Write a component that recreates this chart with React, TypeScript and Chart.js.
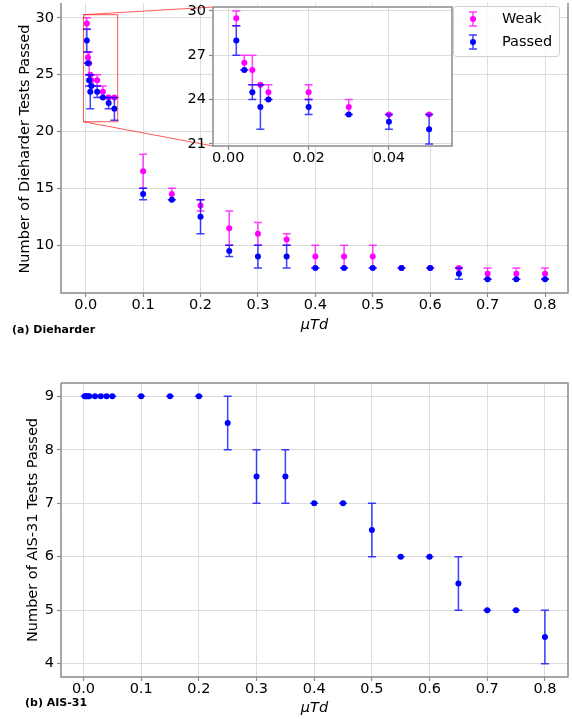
import React, { useEffect, useRef } from 'react';
import { Chart, registerables } from 'chart.js';

Chart.register(...registerables);

// ---------------- data ----------------
const MU_TD = [0.002, 0.004, 0.006, 0.008, 0.01, 0.02, 0.03, 0.04, 0.05, 0.1, 0.15, 0.2, 0.25, 0.3, 0.35, 0.4, 0.45, 0.5, 0.55, 0.6, 0.65, 0.7, 0.75, 0.8];

const WEAK_MEAN = [29.5, 26.5, 26, 25, 24.5, 24.5, 23.5, 23, 23, 16.5, 14.5, 13.5, 11.5, 11, 10.5, 9, 9, 9, 8, 8, 8, 7.5, 7.5, 7.5];
const WEAK_LOW = [29, 26, 25, 25, 24, 24, 23, 23, 23, 15, 14, 13, 10, 10, 10, 8, 8, 8, 8, 8, 8, 7, 7, 7];
const WEAK_HIGH = [30, 27, 27, 25, 25, 25, 24, 23, 23, 18, 15, 14, 13, 12, 11, 10, 10, 10, 8, 8, 8, 8, 8, 8];

const PASSED_MEAN = [28, 26, 24.5, 23.5, 24, 23.5, 23, 22.5, 22, 14.5, 14, 12.5, 9.5, 9, 9, 8, 8, 8, 8, 8, 7.5, 7, 7, 7];
const PASSED_LOW = [27, 26, 24, 22, 24, 23, 23, 22, 21, 14, 14, 11, 9, 8, 8, 8, 8, 8, 8, 8, 7, 7, 7, 7];
const PASSED_HIGH = [29, 26, 25, 25, 24, 24, 23, 23, 23, 15, 14, 14, 10, 10, 10, 8, 8, 8, 8, 8, 8, 7, 7, 7];

const AIS_MEAN = [9, 9, 9, 9, 9, 9, 9, 9, 9, 9, 9, 9, 8.5, 7.5, 7.5, 7, 7, 6.5, 6, 6, 5.5, 5, 5, 4.5];
const AIS_LOW = [9, 9, 9, 9, 9, 9, 9, 9, 9, 9, 9, 9, 8, 7, 7, 7, 7, 6, 6, 6, 5, 5, 5, 4];
const AIS_HIGH = [9, 9, 9, 9, 9, 9, 9, 9, 9, 9, 9, 9, 9, 8, 8, 7, 7, 7, 6, 6, 6, 5, 5, 5];

const MAIN_X_TICKS = [0, 0.1, 0.2, 0.3, 0.4, 0.5, 0.6, 0.7, 0.8];
const TOP_Y_TICKS = [10, 15, 20, 25, 30];
const INSET_X_TICKS = [0, 0.02, 0.04];
const INSET_Y_TICKS = [21, 24, 27, 30];
const BOTTOM_Y_TICKS = [4, 5, 6, 7, 8, 9];

const SERIES_LABELS = ['Weak', 'Passed'];
const TOP_Y_TITLE = 'Number of Dieharder Tests Passed';
const BOTTOM_Y_TITLE = 'Number of AIS-31 Tests Passed';
const X_TITLE = 'μTd';
const TOP_CAPTION = '(a) Dieharder';
const BOTTOM_CAPTION = '(b) AIS-31';

// axis ranges
const TOP_X_RANGE = [-0.043, 0.84];
const TOP_Y_RANGE = [5.8, 31.3];
const BOTTOM_X_RANGE = [-0.039, 0.84];
const BOTTOM_Y_RANGE = [3.75, 9.25];
const INSET_X_RANGE = [-0.0038, 0.0557];
const INSET_Y_RANGE = [20.86, 30.27];

// ---------------- style / layout ----------------
const FAMILY = '"DejaVu Sans", sans-serif';
const FS = 14.5;
const MAGENTA = '#ff00ff';
const BLUE = '#0000ff';
const GRID = '#dddddd';
const SPINE = '#8a8a8a';

const W = 572;
const TOP_H = 350;
const BOT_TOP = 350;
const BOT_H = 369;
const INSET_LEFT = 170;
const INSET_W = 290;
const INSET_H = 170;

const TOP_AREA = { left: 61, right: 568, top: 0, bottom: 293 };
const BOT_AREA = { left: 61, right: 568, top: 33, bottom: 327 };
const INSET_AREA = { left: 43, right: 282, top: 7, bottom: 146 };

Chart.defaults.font.family = FAMILY;

type Err = { lo: number[]; hi: number[]; color: string };

function errorBarPlugin(errs: Err[]) {
  return {
    id: 'errorBars',
    beforeDatasetDraw(chart: any, args: any) {
      const e = errs[args.index];
      if (!e) return;
      const { ctx, chartArea: a } = chart;
      const xs = chart.scales.x;
      const ys = chart.scales.y;
      const data = chart.data.datasets[args.index].data;
      ctx.save();
      ctx.beginPath();
      ctx.rect(a.left, a.top, a.right - a.left, a.bottom - a.top);
      ctx.clip();
      ctx.strokeStyle = e.color;
      ctx.globalAlpha = 0.75;
      ctx.lineWidth = 1.5;
      data.forEach((p: any, i: number) => {
        const px = xs.getPixelForValue(p.x);
        const y1 = ys.getPixelForValue(e.lo[i]);
        const y2 = ys.getPixelForValue(e.hi[i]);
        ctx.beginPath();
        ctx.moveTo(px, y1);
        ctx.lineTo(px, y2);
        ctx.moveTo(px - 4, y1);
        ctx.lineTo(px + 4, y1);
        ctx.moveTo(px - 4, y2);
        ctx.lineTo(px + 4, y2);
        ctx.stroke();
      });
      ctx.restore();
    },
  };
}

function decorPlugin(after: (chart: any) => void, before?: (chart: any) => void) {
  return {
    id: 'decor',
    beforeDraw(chart: any) {
      if (before) before(chart);
    },
    afterDraw(chart: any) {
      after(chart);
    },
  };
}

function drawSpines(ctx: CanvasRenderingContext2D, a: any, top: boolean) {
  ctx.save();
  ctx.strokeStyle = SPINE;
  ctx.lineWidth = 1.5;
  ctx.beginPath();
  ctx.moveTo(a.left, a.top);
  ctx.lineTo(a.left, a.bottom);
  ctx.lineTo(a.right, a.bottom);
  ctx.lineTo(a.right, a.top);
  if (top) ctx.lineTo(a.left, a.top);
  ctx.stroke();
  ctx.restore();
}

function drawText(ctx: CanvasRenderingContext2D, s: string, x: number, y: number, font: string, align: CanvasTextAlign = 'center', rotate = 0) {
  ctx.save();
  ctx.font = font;
  ctx.fillStyle = '#000';
  ctx.textAlign = align;
  ctx.textBaseline = 'middle';
  ctx.translate(x, y);
  if (rotate) ctx.rotate(rotate);
  ctx.fillText(s, 0, 0);
  ctx.restore();
}

function axis(range: number[], ticks: number[], fmt: (v: number) => string, isY: boolean, size: number) {
  return {
    type: 'linear',
    min: range[0],
    max: range[1],
    afterBuildTicks: (s: any) => {
      s.ticks = ticks.map((v) => ({ value: v }));
    },
    afterFit: (s: any) => {
      if (isY) s.width = size;
      else s.height = size;
      s.paddingTop = 0;
      s.paddingBottom = 0;
      s.paddingLeft = 0;
      s.paddingRight = 0;
    },
    grid: { color: GRID, lineWidth: 1, drawTicks: true, tickLength: 4, tickColor: SPINE, tickWidth: 1.2 },
    border: { display: false },
    ticks: {
      color: '#000',
      font: { family: FAMILY, size: FS },
      padding: isY ? 3 : 0,
      autoSkip: false,
      maxRotation: 0,
      minRotation: 0,
      callback: (v: any) => fmt(Number(v)),
    },
  };
}

function dataset(label: string, ys: number[], color: string, order: number) {
  return {
    label,
    data: MU_TD.map((x, i) => ({ x, y: ys[i] })),
    backgroundColor: color,
    borderColor: color,
    pointRadius: 3,
    pointHoverRadius: 3,
    pointBorderWidth: 0,
    showLine: false,
    order,
  };
}

function options(xr: number[], yr: number[], xt: number[], yt: number[], xf: any, yf: any, area: any, w: number, h: number) {
  return {
    responsive: false,
    maintainAspectRatio: false,
    animation: false,
    events: [],
    layout: { padding: { left: 0, top: area.top, right: w - area.right, bottom: 0 } },
    plugins: { legend: { display: false }, tooltip: { enabled: false } },
    scales: {
      x: axis(xr, xt, xf, false, h - area.bottom),
      y: axis(yr, yt, yf, true, area.left),
    },
  };
}

const fmt1 = (v: number) => v.toFixed(1);
const fmt2 = (v: number) => v.toFixed(2);
const fmt0 = (v: number) => String(Math.round(v));

function topSeries() {
  return [dataset(SERIES_LABELS[0], WEAK_MEAN, MAGENTA, 2), dataset(SERIES_LABELS[1], PASSED_MEAN, BLUE, 1)];
}
const topErrs: Err[] = [
  { lo: WEAK_LOW, hi: WEAK_HIGH, color: MAGENTA },
  { lo: PASSED_LOW, hi: PASSED_HIGH, color: BLUE },
];

function drawLegend(chart: any) {
  const ctx: CanvasRenderingContext2D = chart.ctx;
  ctx.save();
  ctx.beginPath();
  (ctx as any).roundRect(453.5, 6.5, 106, 50, 3);
  ctx.fillStyle = 'rgba(255,255,255,0.85)';
  ctx.fill();
  ctx.strokeStyle = '#d0d0d0';
  ctx.lineWidth = 1;
  ctx.stroke();
  const rows = [19, 42];
  chart.data.datasets.forEach((d: any, i: number) => {
    const y = rows[i];
    const x = 473;
    ctx.save();
    ctx.globalAlpha = 0.75;
    ctx.strokeStyle = d.borderColor;
    ctx.lineWidth = 1.5;
    ctx.beginPath();
    ctx.moveTo(x, y - 7);
    ctx.lineTo(x, y + 7);
    ctx.moveTo(x - 4, y - 7);
    ctx.lineTo(x + 4, y - 7);
    ctx.moveTo(x - 4, y + 7);
    ctx.lineTo(x + 4, y + 7);
    ctx.stroke();
    ctx.restore();
    ctx.beginPath();
    ctx.fillStyle = d.backgroundColor;
    ctx.arc(x, y, 3, 0, Math.PI * 2);
    ctx.fill();
    drawText(ctx, d.label, 502, y, `${FS}px ${FAMILY}`, 'left');
  });
  ctx.restore();
}

export default function App() {
  const topRef = useRef<HTMLCanvasElement>(null);
  const botRef = useRef<HTMLCanvasElement>(null);
  const insetRef = useRef<HTMLCanvasElement>(null);

  useEffect(() => {
    const top = new Chart(topRef.current as HTMLCanvasElement, {
      type: 'scatter',
      data: { datasets: topSeries() as any },
      options: options(TOP_X_RANGE, TOP_Y_RANGE, MAIN_X_TICKS, TOP_Y_TICKS, fmt1, fmt0, TOP_AREA, W, TOP_H) as any,
      plugins: [
        errorBarPlugin(topErrs),
        decorPlugin((chart) => {
          const ctx = chart.ctx;
          const a = chart.chartArea;
          drawSpines(ctx, a, false);
          // inset indicator
          const xs = chart.scales.x;
          const ys = chart.scales.y;
          const rx0 = xs.getPixelForValue(INSET_X_RANGE[0]);
          const rx1 = xs.getPixelForValue(INSET_X_RANGE[1]);
          const ry0 = ys.getPixelForValue(INSET_Y_RANGE[1]);
          const ry1 = ys.getPixelForValue(INSET_Y_RANGE[0]);
          const ix = INSET_LEFT + INSET_AREA.left;
          ctx.save();
          ctx.strokeStyle = 'rgba(255,0,0,0.65)';
          ctx.lineWidth = 1;
          ctx.strokeRect(rx0, ry0, rx1 - rx0, ry1 - ry0);
          ctx.beginPath();
          ctx.moveTo(rx0, ry0);
          ctx.lineTo(ix, INSET_AREA.top);
          ctx.moveTo(rx0, ry1);
          ctx.lineTo(ix, INSET_AREA.bottom);
          ctx.stroke();
          ctx.restore();
          drawLegend(chart);
          drawText(ctx, TOP_Y_TITLE, 25.5, (a.top + a.bottom) / 2 + 1, `${FS}px ${FAMILY}`, 'center', -Math.PI / 2);
          drawText(ctx, X_TITLE, (a.left + a.right) / 2, 325, `italic ${FS}px ${FAMILY}`);
          drawText(ctx, TOP_CAPTION, 12, 330, `bold 11px ${FAMILY}`, 'left');
        }),
      ],
    });

    const inset = new Chart(insetRef.current as HTMLCanvasElement, {
      type: 'scatter',
      data: { datasets: topSeries() as any },
      options: options(INSET_X_RANGE, INSET_Y_RANGE, INSET_X_TICKS, INSET_Y_TICKS, fmt2, fmt0, INSET_AREA, INSET_W, INSET_H) as any,
      plugins: [
        errorBarPlugin(topErrs),
        decorPlugin(
          (chart) => drawSpines(chart.ctx, chart.chartArea, true),
          (chart) => {
            const a = chart.chartArea;
            chart.ctx.save();
            chart.ctx.fillStyle = '#ffffff';
            chart.ctx.fillRect(a.left, a.top, a.right - a.left, a.bottom - a.top);
            chart.ctx.restore();
          }
        ),
      ],
    });

    const bottom = new Chart(botRef.current as HTMLCanvasElement, {
      type: 'scatter',
      data: { datasets: [dataset('AIS-31', AIS_MEAN, BLUE, 1)] as any },
      options: options(BOTTOM_X_RANGE, BOTTOM_Y_RANGE, MAIN_X_TICKS, BOTTOM_Y_TICKS, fmt1, fmt0, BOT_AREA, W, BOT_H) as any,
      plugins: [
        errorBarPlugin([{ lo: AIS_LOW, hi: AIS_HIGH, color: BLUE }]),
        decorPlugin((chart) => {
          const ctx = chart.ctx;
          const a = chart.chartArea;
          drawSpines(ctx, a, true);
          drawText(ctx, BOTTOM_Y_TITLE, 33.5, (a.top + a.bottom) / 2, `${FS}px ${FAMILY}`, 'center', -Math.PI / 2);
          drawText(ctx, X_TITLE, (a.left + a.right) / 2, 358, `italic ${FS}px ${FAMILY}`);
          drawText(ctx, BOTTOM_CAPTION, 25, 353, `bold 11px ${FAMILY}`, 'left');
        }),
      ],
    });

    return () => {
      top.destroy();
      inset.destroy();
      bottom.destroy();
    };
  }, []);

  return (
    <div style={{ position: 'absolute', left: 0, top: 0, width: W, height: 719, overflow: 'hidden', background: '#ffffff' }}>
      <canvas ref={topRef} width={W} height={TOP_H} style={{ position: 'absolute', left: 0, top: 0, width: W, height: TOP_H }} />
      <canvas ref={botRef} width={W} height={BOT_H} style={{ position: 'absolute', left: 0, top: BOT_TOP, width: W, height: BOT_H }} />
      <canvas ref={insetRef} width={INSET_W} height={INSET_H} style={{ position: 'absolute', left: INSET_LEFT, top: 0, width: INSET_W, height: INSET_H }} />
    </div>
  );
}
